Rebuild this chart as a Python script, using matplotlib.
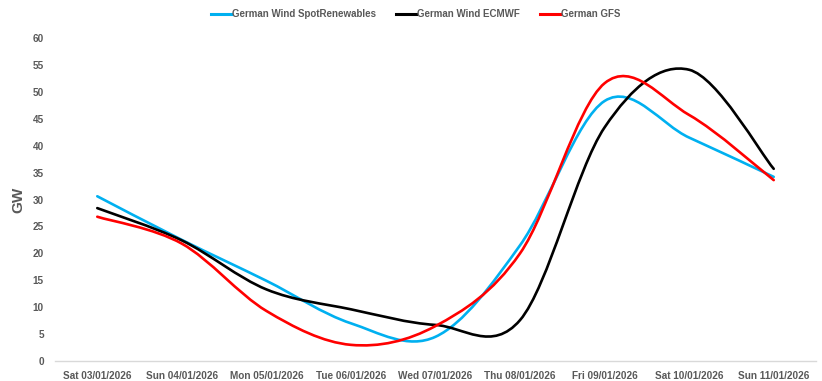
import matplotlib
matplotlib.use('Agg')
import matplotlib.pyplot as plt
from matplotlib.path import Path
from matplotlib.patches import PathPatch
from matplotlib.lines import Line2D
import numpy as np

days = ['Sat 03/01/2026', 'Sun 04/01/2026', 'Mon 05/01/2026', 'Tue 06/01/2026',
        'Wed 07/01/2026', 'Thu 08/01/2026', 'Fri 09/01/2026', 'Sat 10/01/2026',
        'Sun 11/01/2026']
spot = [30.6, 22.5, 14.9, 7.0, 4.5, 21.5, 48.3, 41.5, 34.2]
ecmwf = [28.4, 22.4, 13.3, 9.6, 6.7, 7.6, 43.4, 54.1, 35.7]
gfs = [26.8, 21.8, 9.3, 3.0, 6.5, 20.0, 51.6, 45.7, 33.6]

names = ['German Wind SpotRenewables', 'German Wind ECMWF', 'German GFS']
colors = ['#00B0F0', '#000000', '#FF0000']

plt.rcParams['font.family'] = ['Liberation Sans', 'DejaVu Sans']
grey = '#595959'


def smooth_path(x, y):
    # excel style smoothed line: bezier with catmull-rom control points
    pts = np.column_stack([x, y]).astype(float)
    n = len(pts)
    verts = [pts[0]]
    codes = [Path.MOVETO]
    for i in range(n - 1):
        p0 = pts[i - 1] if i > 0 else pts[i]
        p1 = pts[i]
        p2 = pts[i + 1]
        p3 = pts[i + 2] if i + 2 < n else pts[i + 1]
        c1 = p1 + (p2 - p0) / 6.0
        c2 = p2 - (p3 - p1) / 6.0
        verts += [c1, c2, p2]
        codes += [Path.CURVE4] * 3
    return Path(verts, codes)


fig = plt.figure(figsize=(8.22, 3.81), dpi=100)
ax = fig.add_axes([55 / 822, 20 / 381, 761 / 822, 323 / 381])

x = np.arange(len(days))
for vals, c in zip([spot, ecmwf, gfs], colors):
    ax.add_patch(PathPatch(smooth_path(x, vals), facecolor='none', edgecolor=c,
                           lw=1.9, capstyle='round', joinstyle='round'))

ax.set_xlim(-0.5, len(days) - 0.5)
ax.set_ylim(0, 60)
ax.set_yticks(np.arange(0, 61, 5))
ax.set_xticks(x)
ax.set_xticklabels(days)
for s in ['top', 'right', 'left']:
    ax.spines[s].set_visible(False)
ax.spines['bottom'].set_color('#D9D9D9')
ax.spines['bottom'].set_linewidth(1)
ax.tick_params(length=0, labelsize=7.2, colors=grey)
ax.tick_params(axis='y', pad=8)
ax.tick_params(axis='x', pad=7)
for t in ax.get_xticklabels() + ax.get_yticklabels():
    t.set_fontweight('bold')
ax.set_ylabel('GW', fontsize=11, fontweight='bold', color=grey, labelpad=5)

handles = [Line2D([], [], color=c, lw=2.2) for c in colors]
fig.legend(handles, names, loc='center', bbox_to_anchor=(0.506, 1 - 14 / 381),
           ncol=3, frameon=False, handlelength=2.0, handletextpad=0.15,
           columnspacing=2.1, prop={'size': 7, 'weight': 'bold'},
           labelcolor=grey)

fig.savefig('out.png', dpi=100)
